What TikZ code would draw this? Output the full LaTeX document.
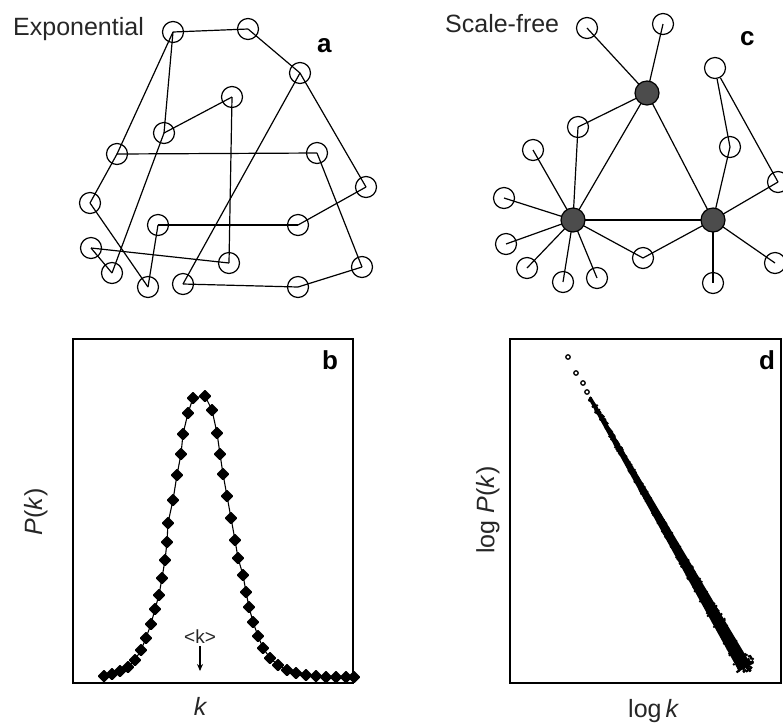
\documentclass[tikz,border=0pt]{standalone}
\usepackage{fontspec}
\setmainfont{Liberation Sans}
\usetikzlibrary{arrows.meta}
\begin{document}
\begin{tikzpicture}[x=1pt,y=-1pt,
  leaf/.style={circle,draw,line width=1.2pt,minimum size=21pt,inner sep=0pt},
  hub/.style={circle,draw,line width=1.2pt,fill=black!70,minimum size=24pt,inner sep=0pt},
  edge/.style={line width=1.2pt},
  txt/.style={font=\fontsize{25}{30}\selectfont,text=black!85,inner sep=0pt},
  lbl/.style={font=\fontsize{26}{30}\selectfont\bfseries,inner sep=0pt,anchor=base west},
  frame/.style={line width=1.5pt},
  mk/.style={fill=black,rounded corners=1pt}]
\useasboundingbox (0,0) rectangle (783,724);

% ---------- texts ----------
\node[txt,anchor=base west] (tExp) at (13,35) {Exponential};
\node[txt,anchor=base west] (tSF) at (445,32) {Scale-free};
\node[lbl] (la) at (317,52) {a};
\node[lbl] (lc) at (740,45) {c};
\node[lbl] (lb) at (322,369) {b};
\node[lbl] (ld) at (759,369) {d};

% ---------- panel a ----------
\foreach \n/\x/\y in {A1/173/32,A2/248/29,A3/300/73,A4/232/97,A5/164/133,A6/117/154,
  A7/317/153,A8/366/187,A9/90/203,A10/158/225,A11/298/225,A12/91/248,A13/112/273,
  A14/148/287,A15/183/284,A16/229/263,A17/298/287,A18/362/267}
  \node[leaf] (\n) at (\x,\y) {};
\foreach \a/\b in {A1/A2,A1/A5,A1/A6,A2/A3,A3/A8,A3/A15,A5/A4,A4/A16,A5/A13,A6/A7,
  A6/A9,A9/A14,A10/A11,A10/A14,A11/A8,A12/A16,A12/A13,A15/A17,A17/A18,A7/A18}
  \draw[edge] (\a.center) -- (\b.center);

% ---------- panel c ----------
\foreach \n/\x/\y in {c1/587/28,c2/663/24,c3/578/127,c4/533/150,c5/504/198,c6/506/244,
  c7/527/268,c8/563/282,c9/597/278,c10/643/258,c11/713/283,c12/775/263,c13/778/182,
  c14/715/68,c15/730/147}
  \node[leaf] (\n) at (\x,\y) {};
\coordinate (H1) at (647,93);
\coordinate (H2) at (573,220);
\coordinate (H3) at (713,220);
\foreach \a/\b in {H1/c1,H1/c2,H1/c3,H2/c3,H2/c4,H2/c5,H2/c6,H2/c7,H2/c8,H2/c9,H2/c10,
  H3/c10,H3/c11,H3/c12,H3/c13,c14/c13,c14/c15,H3/c15,H1/H2,H1/H3,H2/H3}
  \draw[edge] (\a) -- (\b.center);
\node[hub] (hub1) at (H1) {};
\node[hub] (hub2) at (H2) {};
\node[hub] (hub3) at (H3) {};

% ---------- panel b ----------
\draw[frame] (73,339) rectangle (353,683);
\draw[line width=1.1pt] plot coordinates {(104,676) (112,674) (120,671) (128,667) (135,660)
  (141,650) (146,638) (151,624) (155,609) (159,595) (162,578) (165,560) (167,542)
  (168,523) (173,500) (177,475) (181,454) (183,434) (188,413) (193,398) (205,396)
  (212,410) (217,433) (220,454) (223,474) (227,496) (231,518) (235,540) (238,558)
  (243,575) (246,592) (249,607) (253,622) (258,636) (263,648) (270,658) (278,665)
  (287,670) (296,673) (306,675) (316,676) (326,677) (336,677) (346,677) (354,677)};
\foreach \x/\y in {104/676,112/674,120/671,128/667,135/660,141/650,146/638,151/624,155/609,
  159/595,162/578,165/560,167/542,168/523,173/500,177/475,181/454,183/434,188/413,
  193/398,205/396,212/410,217/433,220/454,223/474,227/496,231/518,235/540,238/558,
  243/575,246/592,249/607,253/622,258/636,263/648,270/658,278/665,287/670,296/673,
  306/675,316/676,326/677,336/677,346/677,354/677}
  \fill[mk] (\x-6.5,\y) -- (\x,\y-6.5) -- (\x+6.5,\y) -- (\x,\y+6.5) -- cycle;
\node[font=\fontsize{19}{22}\selectfont,text=black!85,inner sep=0pt] (kmean) at (200,637) {<k>};
\coordinate (kaxis) at (200,671);
\draw[line width=1.4pt,-{Stealth[length=7pt,width=6pt]}] (kmean.south) ++(0,2) -- (kaxis);
\node[txt,anchor=base] (kx) at (200,715) {\itshape k};
\node[txt,rotate=90] (Pk) at (36,512) {\textit{P}(\textit{k})};

% ---------- panel d ----------
\draw[frame] (510,339) rectangle (781,683);
\foreach \x/\y in {568/357,576/373,583/383,587/392}
  \draw[line width=1.3pt] (\x,\y) circle (2.2);
\fill (588.5,399) -- (591.5,397) -- (751,664.5) -- (739,671.5) -- cycle;
\pgfmathsetseed{7}
\foreach \i in {1,...,500}{
  \pgfmathsetmacro\t{rnd}
  \pgfmathsetmacro\w{(2.5+6*(\t)*(\t))*rand}
  \pgfmathsetmacro\px{590+155*(\t)+0.868*(\w)}
  \pgfmathsetmacro\py{398+270*(\t)-0.498*(\w)}
  \fill (\px,\py) circle (1.3);
}
\foreach \i in {1,...,80}{
  \pgfmathsetmacro\px{745+8*rand}
  \pgfmathsetmacro\py{664+8*rand}
  \fill (\px,\py) circle (1.4);
}
\node[txt,rotate=90] (logPk) at (488,510) {log \textit{P}(\textit{k})};
\node[txt,anchor=base west] (logk) at (628,717) {log\,\textit{k}};
\end{tikzpicture}
\end{document}
